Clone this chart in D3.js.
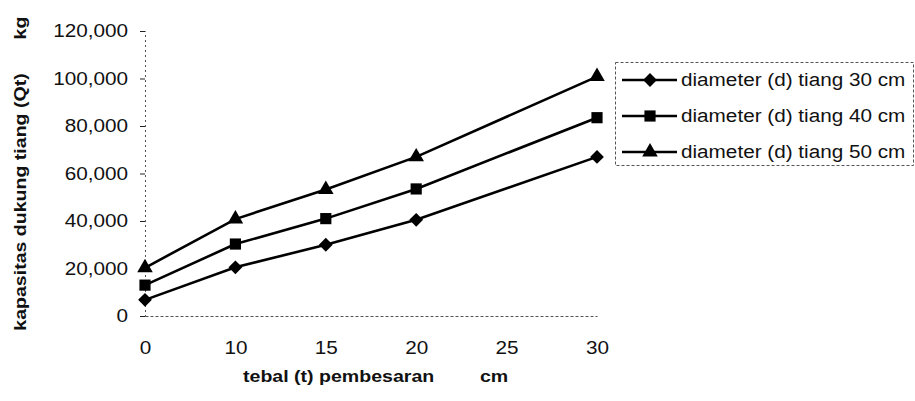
<!DOCTYPE html>
<html>
<head>
<meta charset="utf-8">
<script src="https://cdn.jsdelivr.net/npm/d3@7"></script>
<style>
  body { margin: 0; background: #fff; }
  text { font-family: "Liberation Sans", Arial, sans-serif; fill: #111; }
</style>
</head>
<body>
<div id="chart"></div>
<script>
// categories on the x axis (25 has no measurement)
var categories = ["0", "10", "15", "20", "25", "30"];
var yTicks = [0, 20000, 40000, 60000, 80000, 100000, 120000];

// kapasitas dukung tiang (kg) per tebal pembesaran
var d30 = [6800, 20500, 30000, 40500, null, 67000];
var d40 = [13000, 30300, 41000, 53500, null, 83500];
var d50 = [20300, 40800, 53300, 67000, null, 100800];

var seriesNames = ["diameter (d) tiang 30 cm", "diameter (d) tiang 40 cm", "diameter (d) tiang 50 cm"];
var seriesValues = [d30, d40, d50];

var width = 915, height = 401;
var margin = {top: 31, left: 145, bottom: 85, right: 318};
var stretch = 1.15; // the scanned text is a little wide

var svg = d3.select("#chart").append("svg")
  .attr("width", width)
  .attr("height", height);

var x = d3.scalePoint()
  .domain(categories)
  .range([margin.left, width - margin.right]);

var y = d3.scaleLinear()
  .domain([0, 120000])
  .range([height - margin.bottom, margin.top]);

// marker shapes: diamond (rotated square), square, triangle
function marker(sel, i) {
  if (i === 0) {
    sel.attr("d", d3.symbol().type(d3.symbolSquare).size(95));
    sel.attr("transform", function () { return d3.select(this).attr("transform") + " rotate(45)"; });
  } else if (i === 1) {
    sel.attr("d", d3.symbol().type(d3.symbolSquare).size(125));
  } else {
    sel.attr("d", d3.symbol().type(d3.symbolTriangle).size(105));
  }
}

// y axis: dotted line, short ticks to the left
var yAxis = svg.append("g")
  .attr("transform", `translate(${margin.left},0)`)
  .call(d3.axisLeft(y).tickValues(yTicks).tickSize(5).tickPadding(12)
    .tickFormat(d3.format(",")));
yAxis.select(".domain")
  .attr("stroke", "#555")
  .attr("stroke-dasharray", "2,3");
yAxis.selectAll(".tick line").attr("stroke", "#222");
yAxis.selectAll(".tick text")
  .style("font-size", "18px")
  .attr("fill", "#111");

// x axis: dotted baseline, no ticks
var xAxis = svg.append("g")
  .attr("transform", `translate(0,${y(0)})`)
  .call(d3.axisBottom(x).tickSize(0).tickPadding(25));
xAxis.select(".domain")
  .attr("stroke", "#555")
  .attr("stroke-dasharray", "3,2");
xAxis.selectAll(".tick text")
  .style("font-size", "18px")
  .attr("fill", "#111");

// lines and markers
var line = d3.line()
  .x(d => x(d.cat))
  .y(d => y(d.value));

seriesValues.forEach(function (vals, i) {
  var pts = categories.map((c, j) => ({cat: c, value: vals[j]}))
    .filter(d => d.value != null);

  svg.append("path")
    .datum(pts)
    .attr("fill", "none")
    .attr("stroke", "#000")
    .attr("stroke-width", 2.6)
    .attr("d", line);

  svg.append("g")
    .selectAll("path")
    .data(pts)
    .join("path")
      .attr("transform", d => `translate(${x(d.cat)},${y(d.value)})`)
      .attr("fill", "#000")
      .call(marker, i);
});

// legend
var legend = svg.append("g");
legend.append("rect")
  .attr("x", 615.5)
  .attr("y", 62.5)
  .attr("width", 298)
  .attr("height", 103)
  .attr("fill", "none")
  .attr("stroke", "#555")
  .attr("stroke-dasharray", "3,2");

seriesNames.forEach(function (name, i) {
  var ly = 80 + i * 36;
  legend.append("line")
    .attr("x1", 622).attr("x2", 677)
    .attr("y1", ly).attr("y2", ly)
    .attr("stroke", "#000")
    .attr("stroke-width", 2.4);
  legend.append("path")
    .attr("transform", `translate(650,${ly})`)
    .attr("fill", "#000")
    .call(marker, i);
  legend.append("text")
    .attr("x", 681)
    .attr("y", ly)
    .attr("dy", "0.35em")
    .style("font-size", "18px")
    .text(name);
});

// axis titles
svg.append("text")
  .attr("transform", "translate(26,202) rotate(-90)")
  .style("text-anchor", "middle")
  .style("font-size", "17px")
  .style("font-weight", "bold")
  .text("kapasitas dukung tiang (Qt)");

svg.append("text")
  .attr("transform", "translate(26,28) rotate(-90)")
  .style("text-anchor", "middle")
  .style("font-size", "17px")
  .style("font-weight", "bold")
  .text("kg");

svg.append("text")
  .attr("x", 243)
  .attr("y", 382)
  .style("font-size", "17px")
  .style("font-weight", "bold")
  .text("tebal (t) pembesaran");

svg.append("text")
  .attr("x", 480)
  .attr("y", 382)
  .style("font-size", "17px")
  .style("font-weight", "bold")
  .text("cm");

// widen every label to the scan's proportions
svg.selectAll("text").each(function () {
  var w = this.getComputedTextLength();
  d3.select(this)
    .attr("textLength", w * stretch)
    .attr("lengthAdjust", "spacingAndGlyphs");
});
</script>
</body>
</html>
